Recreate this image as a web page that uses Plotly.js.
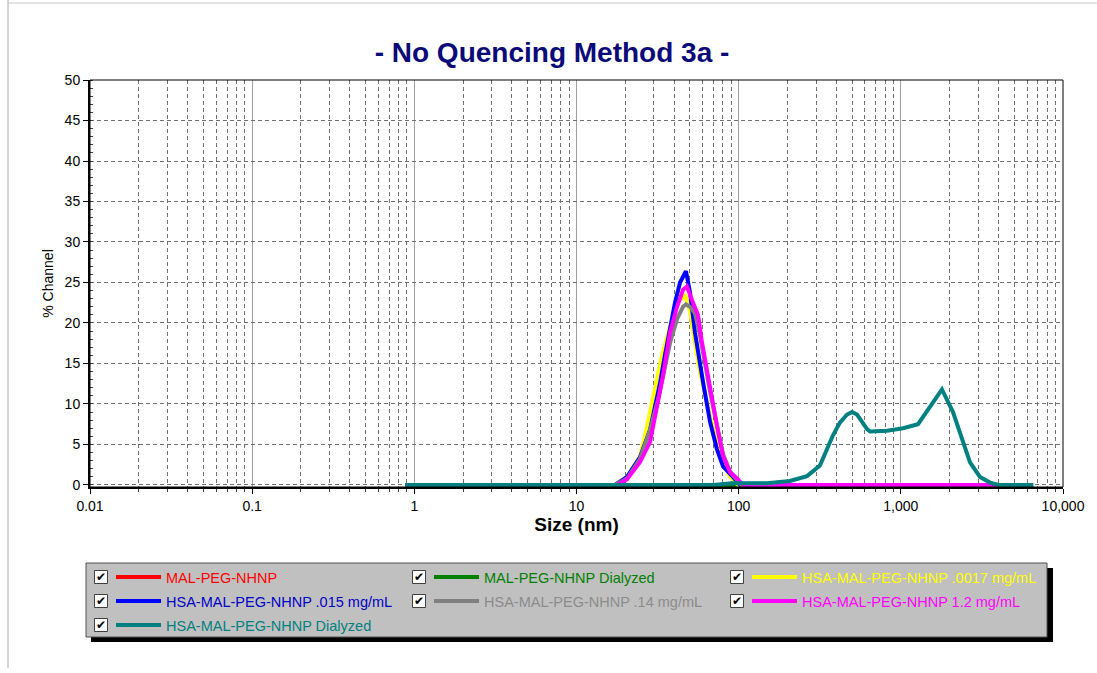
<!DOCTYPE html>
<html>
<head>
<meta charset="utf-8">
<script src="https://cdn.plot.ly/plotly-3.0.1.min.js"></script>
<style>
  html, body { margin: 0; padding: 0; background: #ffffff; }
  #chart { width: 1097px; height: 673px; }
</style>
</head>
<body>
<div id="chart"></div>
<script>
// ---- Data ----
const seriesNames = [
  "MAL-PEG-NHNP",
  "MAL-PEG-NHNP Dialyzed",
  "HSA-MAL-PEG-NHNP .0017 mg/mL",
  "HSA-MAL-PEG-NHNP .015 mg/mL",
  "HSA-MAL-PEG-NHNP .14 mg/mL",
  "HSA-MAL-PEG-NHNP 1.2 mg/mL",
  "HSA-MAL-PEG-NHNP Dialyzed"
];
const seriesColors = ["#ff0000", "#008000", "#ffff00", "#0000ff", "#808080", "#ff00ff", "#008080"];
const legendTextColors = ["#ff0000", "#008000", "#ffff00", "#0000c8", "#8c8c8c", "#ff00ff", "#008080"];

const sizeRed = [0.88, 6540];
const pctRed = [0, 0];

const sizeGreen = [0.88, 6540];
const pctGreen = [0, 0];

const sizeYellow = [0.88, 17.3, 20.5, 24.6, 26.4, 29.2, 33.6, 37.7, 42.2, 46.7, 50.1, 53.0, 57.7, 66.6, 76.7, 88.5, 99.0, 6540];
const pctYellow  = [0,    0,    1.0,  3.5,  6.0,  10.2, 15.9, 19.5, 22.5, 23.5, 21.5, 18.3, 14.0, 8.5,  3.5,  1.0,  0,    0];

const sizeBlue = [0.88, 17.3, 20.5, 24.6, 28.4, 32.7, 35.1, 37.7, 40.5, 43.5, 47.3, 50.1, 53.8, 60.3, 66.6, 73.5, 80.1, 92.3, 101.9, 6540];
const pctBlue  = [0,    0,    1.0,  3.4,  6.8,  12.5, 16.0, 19.3, 22.5, 25.0, 26.4, 23.8, 18.8, 12.7, 7.8,  4.4,  2.3,  1.0,  0,     0];

const sizeGray = [0.88, 17.3, 20.5, 24.6, 28.4, 31.8, 35.1, 37.7, 41.7, 45.4, 47.3, 50.1, 53.8, 57.7, 66.6, 73.5, 80.1, 88.5, 99.0, 104.0, 6540];
const pctGray  = [0,    0,    0.8,  3.2,  6.8,  10.5, 14.5, 17.5, 20.5, 22.0, 22.3, 22.0, 21.2, 18.5, 11.5, 7.2,  3.8,  1.6,  0.5,  0,     0];

const sizeMagenta = [0.88, 17.8, 20.5, 24.6, 28.4, 31.8, 34.1, 37.7, 41.7, 45.4, 48.0, 52.3, 56.1, 59.4, 66.6, 73.5, 80.1, 88.5, 99.0, 106.3, 6540];
const pctMagenta  = [0,    0,    0.7,  2.8,  5.3,  10.2, 13.4, 18.8, 22.0, 24.1, 24.5, 22.5, 21.0, 17.6, 11.8, 7.3,  3.6,  1.6,  0.7,  0,     0];

const sizeTeal = [0.88, 70, 90, 150, 207, 264, 317, 381, 421, 466, 500, 537, 619, 646, 822, 1031, 1276, 1579, 1793, 2097, 2418, 2670, 3077, 3548, 4000, 6540];
const pctTeal  = [0,    0,  0.2, 0.2, 0.5, 1.1, 2.4, 6.1, 7.7, 8.7, 9.0, 8.7, 6.9, 6.6, 6.7, 7.0,  7.5,  10.2, 11.8, 9.0,  5.3,  2.8,  1.0,  0.3,  0,    0];

const xTickVals = [0.01, 0.1, 1, 10, 100, 1000, 10000];
const xTickText = ["0.01", "0.1", "1", "10", "100", "1,000", "10,000"];
const yTickVals = [0, 5, 10, 15, 20, 25, 30, 35, 40, 45, 50];
const yTickText = ["0", "5", "10", "15", "20", "25", "30", "35", "40", "45", "50"];

const chartTitle = "- No Quencing Method 3a -";
const xTitle = "Size (nm)";
const yTitle = "% Channel";

// ---- Build ----
const allX = [sizeRed, sizeGreen, sizeYellow, sizeBlue, sizeGray, sizeMagenta, sizeTeal];
const allY = [pctRed, pctGreen, pctYellow, pctBlue, pctGray, pctMagenta, pctTeal];
const legendIds = ["legend", "legend", "legend", "legend2", "legend2", "legend2", "legend3"];

const traces = allX.map((xs, i) => ({
  type: "scatter",
  mode: "lines",
  x: xs,
  y: allY[i],
  name: '<span style="color:' + legendTextColors[i] + '">' + seriesNames[i] + '</span>',
  line: { color: seriesColors[i], width: 4 },
  legend: legendIds[i],
  hoverinfo: "x+y"
}));

// minor grid positions (2..9 within each decade)
const minorVals = [];
for (let d = -2; d < 4; d++) {
  for (let m = 2; m <= 9; m++) minorVals.push(m * Math.pow(10, d));
}

// pixel helpers for layout decorations
const W = 1097, H = 673;
const mL = 90, mR = 34, mT = 80, mB = 186;
const pw = W - mL - mR, ph = H - mT - mB;
const px = v => (v - mL) / pw;
const py = v => (H - mB - v) / ph;

const rowY = [577, 601, 625];
const colX = [101, 419, 737];

const shapes = [
  // outer frame lines
  { type: "line", xref: "paper", yref: "paper", x0: px(8), x1: px(8), y0: py(0), y1: py(668), line: { color: "#a8a8a8", width: 1 } },
  { type: "line", xref: "paper", yref: "paper", x0: px(8), x1: px(1097), y0: py(3), y1: py(3), line: { color: "#c8c8c8", width: 1 } },
  // plot frame (top/right thin)
  { type: "rect", xref: "paper", yref: "paper", x0: 0, x1: 1, y0: 0, y1: 1, line: { color: "#000000", width: 1 }, layer: "above" },
  // legend shadow and box
  { type: "rect", xref: "paper", yref: "paper", x0: px(91), x1: px(1053), y0: py(568), y1: py(642), fillcolor: "#000000", line: { width: 0 } },
  { type: "rect", xref: "paper", yref: "paper", x0: px(86), x1: px(1047), y0: py(563), y1: py(637), fillcolor: "#c0c0c0", line: { color: "#505050", width: 1 } }
];
const annotations = [];
const checks = [[0,0],[0,1],[0,2],[1,0],[1,1],[1,2],[2,0]];
checks.forEach(([r, c]) => {
  shapes.push({ type: "rect", xref: "paper", yref: "paper",
    x0: px(colX[c] - 6.5), x1: px(colX[c] + 6.5), y0: py(rowY[r] + 6.5), y1: py(rowY[r] - 6.5),
    fillcolor: "#ffffff", line: { color: "#404040", width: 1 } });
  annotations.push({ xref: "paper", yref: "paper", x: px(colX[c]), y: py(rowY[r]), text: "✔",
    showarrow: false, font: { family: "DejaVu Sans", size: 12, color: "#000000" }, xanchor: "center", yanchor: "middle" });
});

const legendBase = {
  orientation: "h",
  bgcolor: "rgba(0,0,0,0)",
  borderwidth: 0,
  font: { family: "Liberation Sans, Arial, sans-serif", size: 14.5, color: "#000000" },
  itemwidth: 45,
  entrywidth: 258,
  entrywidthmode: "pixels",
  xref: "container",
  yref: "container",
  xanchor: "left",
  yanchor: "middle",
  x: 111 / W,
  itemclick: false,
  itemdoubleclick: false
};

const layout = {
  width: W, height: H,
  margin: { l: mL, r: mR, t: mT, b: mB },
  paper_bgcolor: "#ffffff",
  plot_bgcolor: "#ffffff",
  showlegend: true,
  title: {
    text: "<b>" + chartTitle + "</b>",
    x: 552 / W, xref: "container", xanchor: "center",
    y: 1 - 52 / H, yref: "container", yanchor: "middle",
    font: { family: "Liberation Sans, Arial, sans-serif", size: 28, color: "#0a0a78" }
  },
  xaxis: {
    type: "log",
    range: [-2, 4],
    tickmode: "array",
    tickvals: xTickVals,
    ticktext: xTickText,
    ticks: "outside", ticklen: 5, tickwidth: 1, tickcolor: "#000000",
    tickfont: { family: "Liberation Sans, Arial, sans-serif", size: 14, color: "#000000" },
    showline: true, linecolor: "#000000", linewidth: 2,
    showgrid: true, gridcolor: "#a0a0a0", gridwidth: 1,
    zeroline: false,
    layer: "below traces",
    minor: {
      tickmode: "array", tickvals: minorVals,
      ticks: "outside", ticklen: 3, tickcolor: "#404040",
      showgrid: true, gridcolor: "#707070", gridwidth: 1, griddash: "4px,3px"
    },
    title: { text: "<b>" + xTitle + "</b>", standoff: 4,
      font: { family: "Liberation Sans, Arial, sans-serif", size: 19, color: "#000000" } }
  },
  yaxis: {
    range: [-0.25, 50],
    tickmode: "array",
    tickvals: yTickVals,
    ticktext: yTickText,
    ticks: "outside", ticklen: 5, tickwidth: 1, tickcolor: "#000000",
    tickfont: { family: "Liberation Sans, Arial, sans-serif", size: 14, color: "#000000" },
    showline: true, linecolor: "#000000", linewidth: 2,
    showgrid: true, gridcolor: "#707070", gridwidth: 1, griddash: "4px,3px",
    zeroline: false,
    layer: "below traces",
    minor: { dtick: 1, ticks: "inside", ticklen: 3, tickcolor: "#404040", showgrid: false },
    title: { text: yTitle, standoff: 8,
      font: { family: "Liberation Sans, Arial, sans-serif", size: 14, color: "#000000" } }
  },
  legend: Object.assign({}, legendBase, { y: 1 - rowY[0] / H }),
  legend2: Object.assign({}, legendBase, { y: 1 - rowY[1] / H }),
  legend3: Object.assign({}, legendBase, { y: 1 - rowY[2] / H }),
  shapes: shapes,
  annotations: annotations
};

Plotly.newPlot("chart", traces, layout, { displayModeBar: false, staticPlot: false });
</script>
</body>
</html>
